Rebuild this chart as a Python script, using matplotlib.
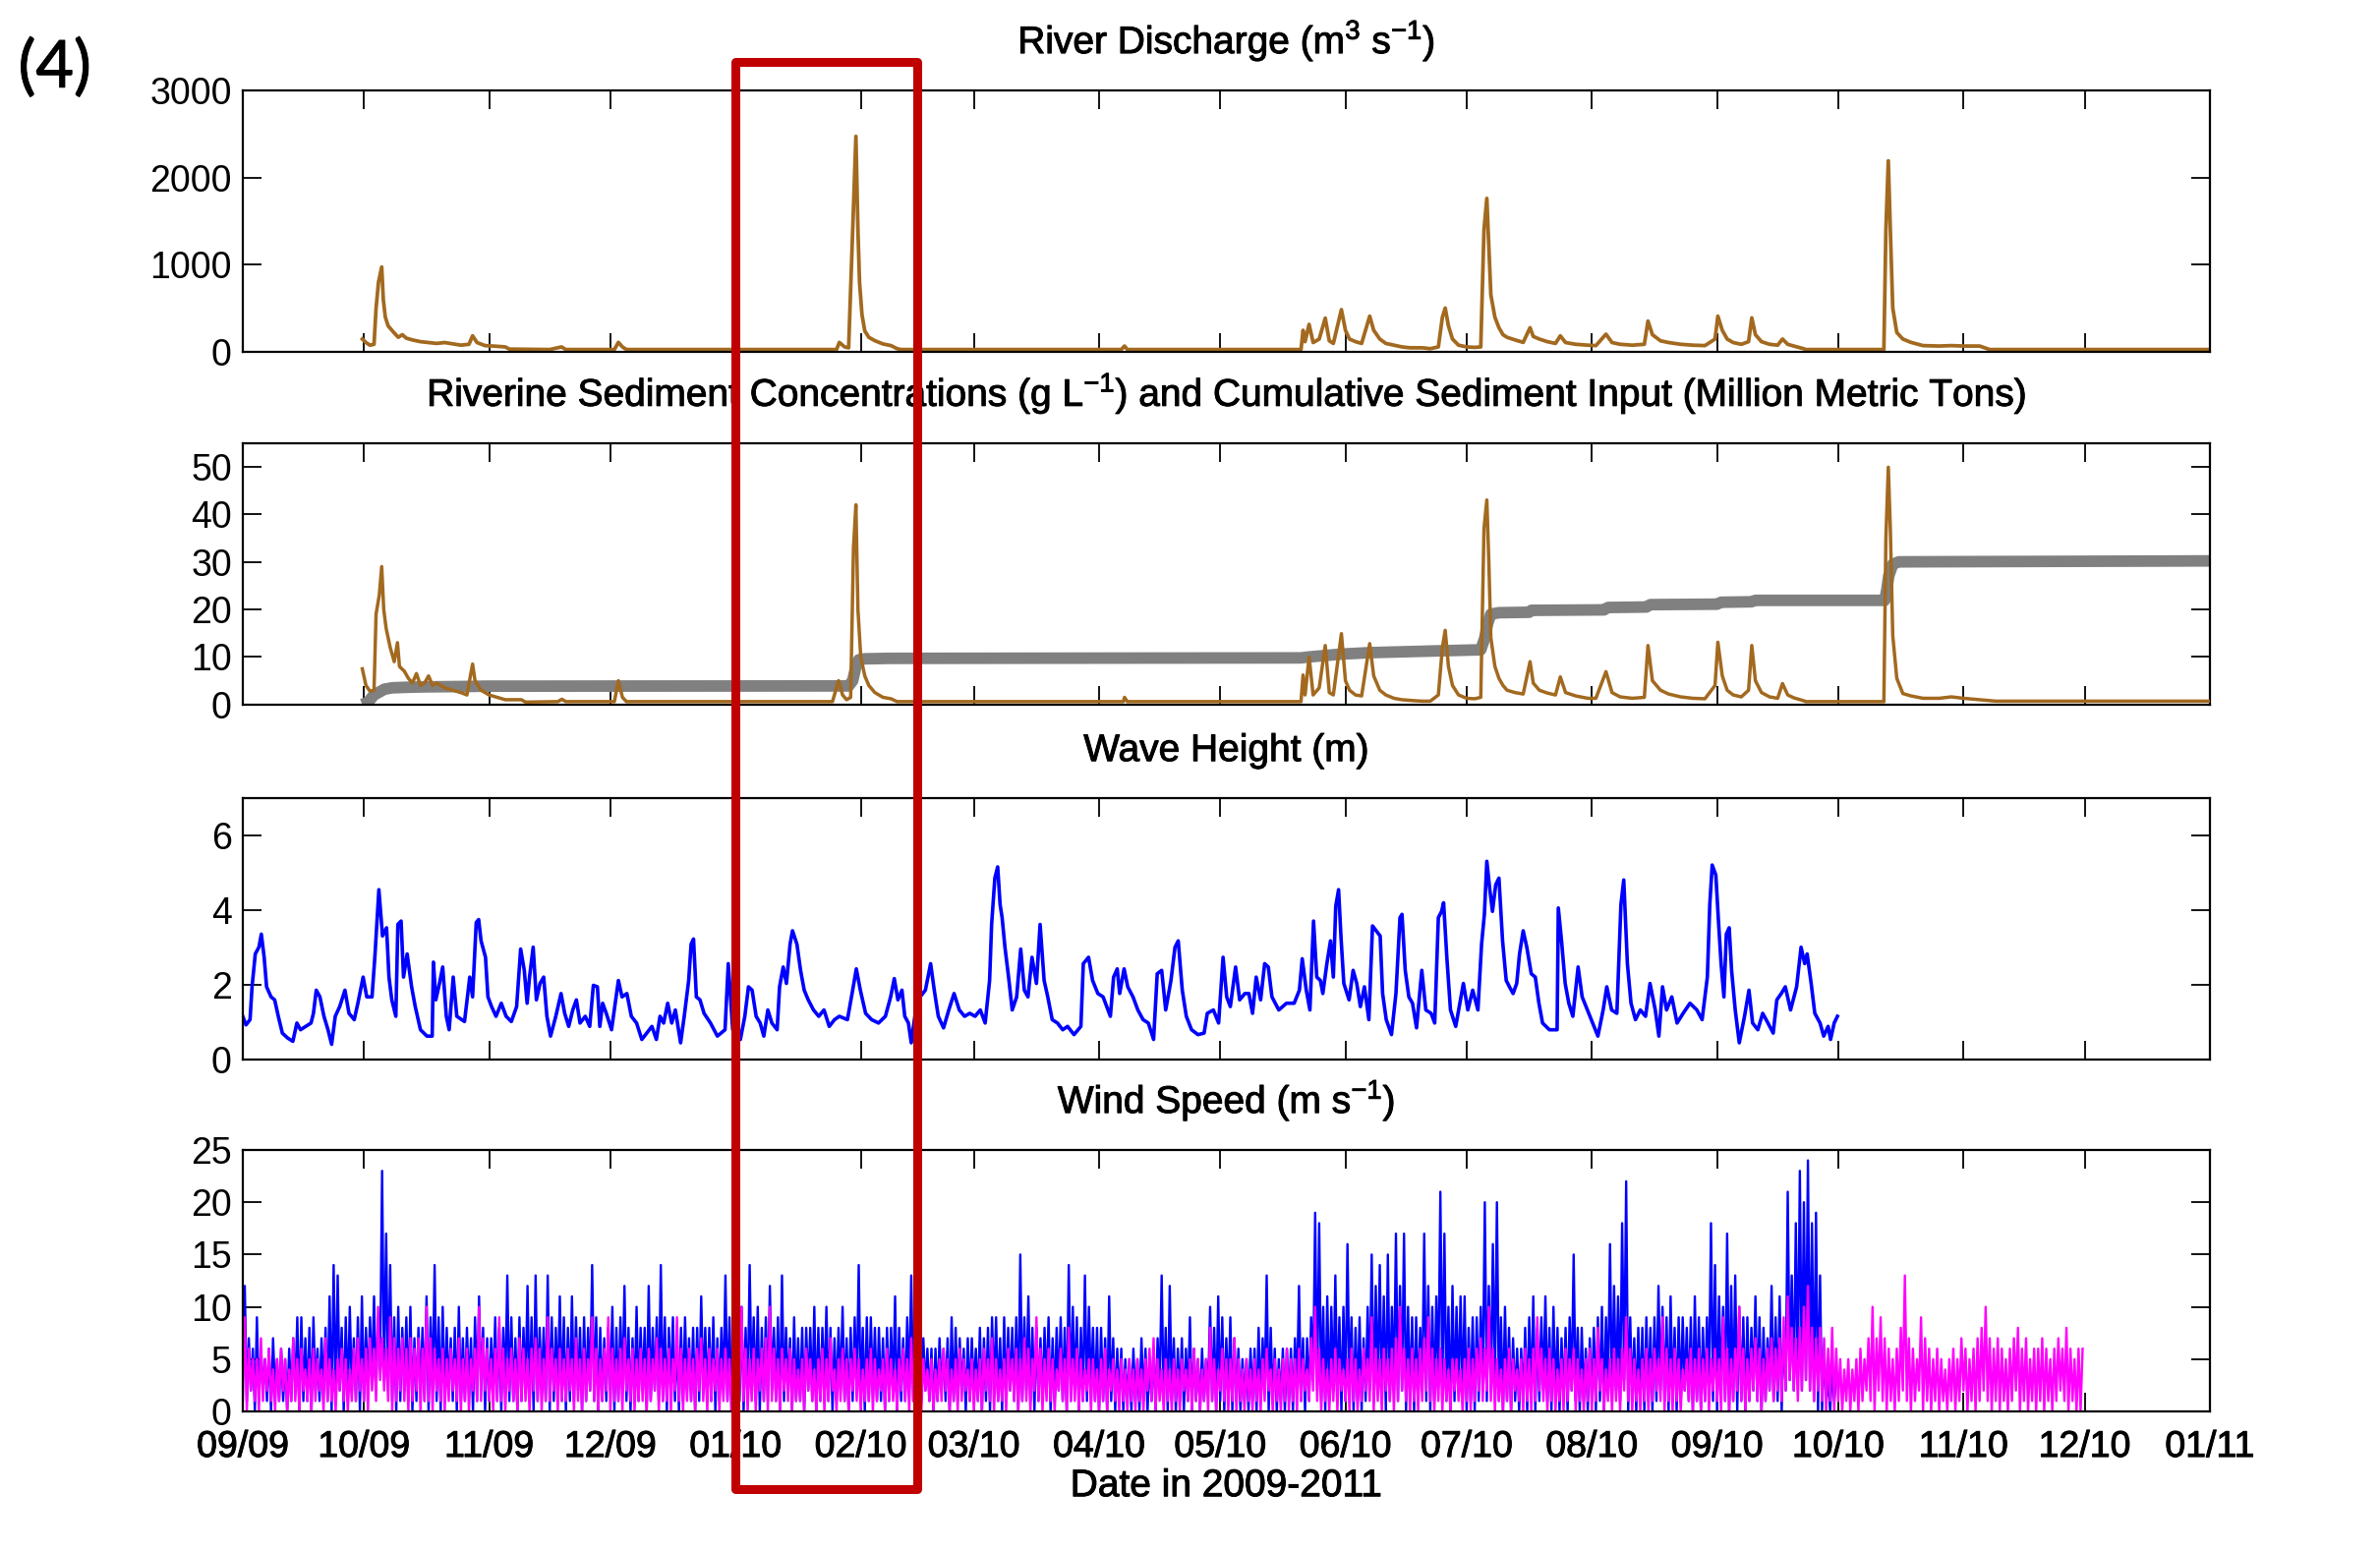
import numpy as np
import pandas as pd
import matplotlib
matplotlib.use("Agg")
import matplotlib.pyplot as plt
import matplotlib.patheffects as pe
from matplotlib.patches import Rectangle

plt.rcParams['font.family'] = ['Liberation Sans', 'DejaVu Sans']
plt.rcParams['mathtext.fontset'] = 'custom'
plt.rcParams['mathtext.rm'] = 'Liberation Sans'
plt.rcParams['mathtext.it'] = 'Liberation Sans:italic'

# time is given in days since 2009-09-01
START = np.datetime64('2009-09-01T00:00')

# river discharge (m3/s)
q_day = [29.6, 30.5, 31.5, 32.5, 33.0, 33.6, 34.4, 34.8, 35.3, 36, 37.5, 38.5, 39.5, 40.5, 42, 44, 46, 48,
         50, 52, 54, 56, 56.9, 58, 60, 62, 65, 66, 76, 78.9, 80, 92, 93, 94, 95,
         147, 147.7, 149, 150, 151, 151.8, 152.3, 152.7, 153.3, 154, 155, 156.5, 158.5, 160.5, 162, 163,
         217.5, 218.3, 219, 262, 262.5, 263, 264, 265, 266.5, 268, 269, 270, 272, 273, 274, 275.5, 277,
         279, 280, 281.5, 283, 285, 287, 289, 292, 294, 296, 297, 297.7, 298.5, 299.5, 301, 303, 305,
         306.5, 307.3, 308, 308.5, 309, 310, 311, 312, 313, 315, 317, 318.7, 319.5, 321, 323, 325, 326.2,
         327.5, 330, 333, 335, 337.5, 339, 341, 344, 347, 347.9, 349, 351, 353, 356, 359, 362, 364.5,
         365.2, 366.3, 367.5, 369, 371, 372.8, 373.6, 374.5, 376, 378, 380, 381.2, 382.5, 384, 386.4, 387,
         406.3, 406.8, 407.4, 407.9, 408.5, 409.5, 411, 413, 416, 420, 423, 426, 430, 432.5, 487]
q_val = [150, 110, 80, 90, 500, 800, 975, 600, 400, 300, 220, 170, 200, 160, 140, 120, 110, 100,
         110, 95, 80, 90, 187, 110, 75, 70, 60, 35, 30, 60, 30, 30, 112, 60, 30,
         30, 112, 60, 50, 1400, 2470, 1400, 800, 430, 243, 170, 131, 94, 75, 40, 30,
         30, 70, 30, 30, 250, 120, 318, 110, 150, 390, 130, 100, 487, 250, 150, 120, 100,
         412, 250, 150, 100, 80, 60, 50, 50, 40, 60, 400, 505, 300, 150, 80, 60, 55,
         60, 1400, 1760, 1200, 655, 400, 280, 200, 170, 140, 112, 280, 180, 150, 120, 100, 187,
         110, 90, 80, 75, 206, 110, 90, 80, 90, 356, 200, 130, 110, 90, 80, 75, 150,
         412, 250, 150, 110, 90, 120, 393, 200, 120, 90, 80, 150, 90, 70, 40, 30,
         30, 1400, 2190, 1400, 505, 225, 150, 112, 75, 70, 75, 70, 70, 30, 30]

# riverine sediment concentration (g/L)
c_day = [29.6, 30.5, 31.5, 32.5, 33.0, 33.8, 34.4, 34.9, 35.5, 36.5, 37.5, 38.3, 38.8, 40, 41, 42, 43,
         44, 45, 46, 47, 48, 50, 52, 54, 55.5, 56.9, 57.5, 59, 61, 63, 65, 69, 70, 78, 79, 80,
         92, 93, 94, 95, 146, 147.5, 148.5, 149.5, 150.5, 151.2, 151.8, 152.3, 153, 154, 155, 156.5,
         158.5, 160.5, 162, 218, 218.3, 219, 262, 262.5, 263, 264, 265, 266.5, 268, 269, 270, 272, 273,
         274, 275.5, 277, 279, 280, 281.5, 283, 285, 287, 290, 292, 294, 296, 297, 297.7, 298.5, 299.5,
         301, 303, 305, 306.5, 307.3, 308, 308.5, 309, 310, 311, 312, 313, 315, 317, 318.7, 319.5, 321,
         323, 325, 326.2, 327.5, 330, 333, 335, 337.5, 339, 341, 344, 347, 347.9, 349, 351, 353, 356,
         359, 362, 364.5, 365.2, 366.3, 367.5, 369, 371, 372.8, 373.6, 374.5, 376, 378, 380, 381.2,
         382.5, 384, 386.4, 387, 406.3, 406.8, 407.4, 407.9, 408.5, 409.5, 411, 413, 416, 420, 423,
         426, 430, 434, 487]
c_val = [7.5, 4, 2.8, 3, 19, 23, 29, 20, 16, 12, 9, 13, 8, 7, 5.5, 4.5, 6.5,
         4, 4.5, 6, 4, 4.5, 3.5, 3, 2.5, 2, 8.5, 5, 3, 2, 1.5, 1, 1, 0.5, 0.6, 1.1, 0.6,
         0.6, 5.0, 1.5, 0.6, 0.6, 5.0, 2, 1.0, 1.5, 33, 42, 20, 10, 6, 4, 2.5,
         1.5, 1.2, 0.6, 0.6, 1.5, 0.6, 0.6, 6.2, 2, 10, 2, 3.5, 12.4, 2.5, 2, 14.9, 5,
         3, 2, 1.8, 12.8, 6, 3, 2, 1.3, 1, 0.8, 0.7, 0.7, 2, 12, 15.6, 8, 4,
         2, 1.3, 1.2, 1.5, 37, 43, 30, 14, 8, 5.5, 4, 3, 2.5, 2.2, 9, 4.5, 3,
         2.4, 2, 5.8, 2.5, 1.8, 1.3, 1.3, 6.9, 2.5, 1.6, 1.3, 1.5, 12.4, 5, 3, 2.2, 1.6,
         1.3, 1.2, 4, 13.1, 6, 3, 2, 1.6, 3, 12.4, 5, 2.5, 1.6, 1.3, 4.4,
         2, 1.4, 0.8, 0.6, 0.6, 35, 49.9, 37, 14.5, 5.5, 2.3, 1.8, 1.3, 1.3, 1.6,
         1.3, 1.0, 0.7, 0.7]

# cumulative sediment input (million metric tons)
m_day = [29.6, 31, 32.5, 34, 35, 37, 40, 45, 57, 60, 150, 151, 151.8, 152.5, 154, 160, 262, 264,
         268, 272, 279, 297, 306.5, 307.5, 308.2, 309, 311, 318.5, 319, 337, 338, 347.5, 348.5,
         365, 366, 373.5, 374.5, 406.5, 407, 407.5, 408.5, 410, 487]
m_val = [0, 0.5, 2.0, 2.7, 3.2, 3.5, 3.6, 3.7, 3.8, 3.85, 3.9, 5, 8, 9.4, 9.6, 9.7, 9.8, 10,
         10.3, 10.6, 10.9, 11.3, 11.5, 14, 17, 19.0, 19.3, 19.4, 19.8, 19.9, 20.4, 20.5, 21.0,
         21.1, 21.5, 21.6, 21.9, 21.9, 24, 27, 29.5, 30.0, 30.2]

# significant wave height (m)
h_day = [0, 0.8, 1.8, 2.3, 3.1, 4.0, 4.6, 5.3, 5.9, 7.0, 7.9, 8.8, 9.8, 11.1, 12.4, 13.4, 14.3, 15.6,
         16.9, 17.5, 18.2, 19.1, 20.1, 21.1, 22.0, 22.9, 24.0, 25.3, 26.3, 27.6, 28.5, 29.8, 30.7,
         32.0, 32.7, 33.7, 34.6, 35.6, 36.2, 36.9, 37.9, 38.4, 39.2, 39.8, 40.7, 41.8, 42.7, 44.0,
         45.6, 46.9, 47.2, 47.8, 48.7, 49.5, 50.4, 51.1, 52.1, 53.0, 54.9, 56.2, 56.9, 57.8, 58.4,
         59.0, 60.1, 60.7, 61.6, 62.7, 64.0, 65.2, 66.5, 67.8, 68.8, 69.7, 70.4, 71.0, 71.9, 72.7,
         73.6, 74.5, 75.3, 76.2, 77.5, 78.8, 79.7, 80.7, 81.7, 82.6, 83.5, 84.8, 85.9, 86.8, 87.8,
         88.4, 89.1, 90.0, 91.3, 93.0, 93.9, 95.1, 96.2, 97.5, 98.8, 100.0, 101.3, 102.4, 103.3,
         104.2, 105.2, 106.2, 107.1, 108.4, 109.3, 110.4, 111.0, 111.6, 112.3, 113.2, 114.2, 115.8,
         117.5, 119.4, 120.2, 121.3, 123.2, 124.3, 125.2, 126.1, 127.1, 128.1, 129.0, 130.0, 131.0,
         132.3, 132.9, 133.8, 134.6, 135.5, 136.1, 137.2, 138.1, 139.0, 140.0, 141.3, 142.6, 143.9,
         145.2, 146.5, 147.7, 149.7, 151.0, 151.9, 152.9, 154.2, 155.7, 157.4, 159.1, 160.4, 161.3,
         162.2, 163.2, 163.9, 164.8, 165.5, 166.4, 167.1, 169.0, 170.3, 171.2, 172.2, 173.5, 174.8,
         176.1, 177.4, 178.7, 180.0, 181.3, 182.6, 183.8, 184.9, 185.4, 186.2, 186.9, 187.5, 188.0,
         188.7, 189.6, 190.5, 191.6, 192.6, 193.5, 194.4, 195.4, 196.5, 197.4, 198.4, 199.3, 200.4,
         201.7, 203.0, 204.2, 205.8, 207.5, 208.1, 209.4, 210.4, 211.7, 213.0, 213.9, 214.8, 215.6,
         216.5, 217.1, 218.2, 219.1, 220.4, 221.6, 222.9, 224.2, 225.5, 226.4, 227.5, 228.5, 229.8,
         230.8, 231.6, 232.6, 233.6, 234.9, 236.5, 238.0, 238.8, 240.3, 241.6, 242.7, 243.6, 244.5,
         245.8, 246.8, 248.1, 249.1, 250.0, 250.9, 252.0, 253.0, 253.9, 254.8, 256.5, 258.4, 260.3,
         261.6, 262.3, 263.3, 264.2, 265.1, 265.9, 266.8, 267.4, 268.4, 269.3, 270.0, 270.6, 271.3,
         271.9, 272.6, 273.9, 274.9, 275.8, 276.7, 277.7, 278.8, 279.7, 280.6, 281.6, 282.2, 283.1,
         284.4, 285.5, 286.5, 287.0, 287.8, 288.7, 289.6, 290.6, 291.9, 292.9, 294.2, 295.1, 296.0,
         296.8, 297.3, 298.1, 299.0, 300.3, 301.6, 302.2, 303.3, 304.5, 305.8, 306.7, 307.4, 308.0,
         308.7, 309.4, 310.2, 311.0, 311.9, 312.8, 313.6, 314.5, 315.4, 316.1, 317.0, 317.9, 319.0,
         320.0, 320.9, 321.8, 323.5, 325.4, 325.7, 326.5, 327.4, 328.3, 329.3, 330.6, 331.6, 332.9,
         334.2, 335.5, 336.8, 337.7, 338.9, 340.2, 341.2, 341.9, 342.8, 343.7, 344.8, 346.0, 347.3,
         348.4, 349.7, 350.6, 351.5, 352.5, 353.8, 355.1, 356.6, 358.3, 360.0, 361.3, 362.6, 363.2,
         363.8, 364.7, 365.4, 366.0, 366.7, 367.3, 368.0, 368.6, 369.5, 370.5, 371.8, 372.9, 373.8,
         375.1, 376.3, 377.6, 378.9, 379.8, 380.9, 381.9, 383.2, 384.7, 385.8, 386.7, 387.3, 388.3,
         389.2, 390.5, 391.4, 392.5, 393.1, 394.0, 394.8]
h_val = [1.15, 0.92, 1.06, 1.94, 2.82, 3.0, 3.35, 2.73, 1.94, 1.67, 1.59, 1.15, 0.7, 0.57, 0.48, 0.97,
         0.79, 0.88, 0.97, 1.23, 1.85, 1.67, 1.15, 0.79, 0.40, 1.15, 1.41, 1.85, 1.23, 1.06, 1.50,
         2.20, 1.67, 1.67, 2.73, 4.54, 3.30, 3.52, 2.2, 1.59, 1.15, 3.61, 3.70, 2.2, 2.82, 1.94, 1.41,
         0.79, 0.62, 0.62, 2.6, 1.59, 2.03, 2.47, 1.15, 0.79, 2.2, 1.15, 1.01, 2.2, 1.67, 3.66, 3.74,
         3.17, 2.73, 1.67, 1.41, 1.15, 1.50, 1.15, 1.01, 1.41, 2.95, 2.38, 1.50, 2.2, 3.0, 1.59,
         2.03, 2.2, 1.15, 0.62, 1.15, 1.76, 1.23, 0.88, 1.32, 1.59, 0.97, 1.15, 0.88, 1.98, 1.94,
         0.88, 1.50, 1.23, 0.79, 2.11, 1.67, 1.76, 1.15, 0.97, 0.53, 0.70, 0.88, 0.53, 1.15,
         0.97, 1.50, 0.97, 1.32, 0.44, 1.15, 2.11, 3.08, 3.22, 1.67, 1.59, 1.23, 0.97,
         0.62, 0.79, 2.56, 0.79, 0.53, 1.15, 1.94, 1.85, 1.15, 0.97, 0.62, 1.32, 0.97,
         0.79, 1.94, 2.47, 2.03, 3.08, 3.44, 3.08, 2.38, 1.85, 1.59, 1.32, 1.15, 1.32,
         0.88, 1.06, 1.15, 1.06, 1.85, 2.42, 1.85, 1.23, 1.06, 0.97, 1.15, 1.67, 2.16,
         1.59, 1.85, 1.15, 0.97, 0.44, 1.15, 1.59, 1.85, 2.56, 1.85, 1.15, 0.84, 1.32,
         1.76, 1.32, 1.15, 1.23, 1.15, 1.32, 0.97, 2.11, 3.61, 4.85, 5.15, 4.14, 3.79,
         3.0, 2.2, 1.32, 1.67, 2.95, 1.85, 1.67, 2.73, 2.03, 3.61, 2.11, 1.67, 1.06,
         0.97, 0.79, 0.88, 0.66, 0.88, 2.56, 2.73, 2.11, 1.76, 1.67, 1.41, 1.15, 2.20,
         2.42, 1.76, 2.42, 1.94, 1.67, 1.32, 1.06, 0.97, 0.53, 2.29, 2.38, 1.32, 2.11,
         3.0, 3.17, 1.85, 1.15, 0.79, 0.66, 0.70, 1.23, 1.32, 0.97, 2.73, 1.67, 1.41,
         2.47, 1.59, 1.76, 1.76, 1.23, 2.20, 1.59, 2.56, 2.47, 1.67, 1.32, 1.50, 1.50,
         1.85, 2.69, 1.85, 1.32, 3.70, 2.20, 2.11, 1.76, 2.56, 3.17, 2.20, 4.10, 4.54,
         3.26, 2.03, 1.59, 2.38, 2.03, 1.41, 1.94, 1.06, 3.57, 3.44, 3.30, 1.76, 1.06,
         0.66, 1.76, 3.79, 3.88, 2.38, 1.67, 1.50, 0.84, 2.38, 1.32, 1.23, 0.97, 3.79,
         3.96, 4.19, 2.73, 1.32, 0.88, 1.67, 2.03, 1.32, 1.85, 1.32, 3.08, 3.88, 5.30,
         4.58, 3.96, 4.67, 4.85, 3.17, 2.11, 1.94, 1.76, 2.03, 2.82, 3.44, 3.0, 2.29,
         2.20, 1.50, 0.97, 0.79, 0.79, 4.05, 3.17, 2.03, 1.50, 1.15, 2.47, 1.67, 1.32,
         0.97, 0.62, 1.32, 1.94, 1.32, 1.23, 4.14, 4.80, 2.56, 1.50, 1.06, 1.32, 1.15,
         2.03, 1.32, 0.62, 1.94, 1.32, 1.67, 0.97, 1.23, 1.50, 1.32, 1.06, 2.20, 4.14,
         5.20, 4.93, 3.61, 2.56, 1.67, 3.35, 3.52, 2.38, 1.32, 0.44, 1.15, 1.85, 0.97,
         0.79, 1.23, 0.97, 0.70, 1.59, 1.76, 1.94, 1.32, 1.94, 3.0, 2.56, 2.82, 2.03,
         1.23, 0.97, 0.62, 0.88, 0.53, 0.97, 1.15]

# wind speed (m/s): daily upper and lower envelope, station 1 (blue) and station 2 (magenta)
w1_hi = [12, 7, 6, 9, 6, 5, 6, 7, 5, 6,   5, 6, 7, 9, 9, 7, 8, 9, 6, 7,
         8, 11, 14, 13, 8, 9, 10, 7, 9, 11,   8, 9, 11, 9, 23, 17, 14, 9, 10, 8,
         9, 10, 7, 8, 8, 11, 9, 14, 9, 10,   8, 7, 8, 10, 7, 8, 7, 9, 11, 8,
         7, 7, 9, 8, 8, 13, 9, 7, 9, 8,   12, 9, 13, 8, 8, 13, 9, 8, 11, 9,
         8, 11, 9, 8, 9, 8, 14, 9, 8, 7,   8, 10, 8, 9, 12, 8, 7, 10, 8, 8,
         12, 8, 9, 14, 9, 8, 9, 7, 8, 9,   7, 8, 8, 11, 8, 8, 9, 7, 8, 13,
         9, 8, 8, 10, 8, 14, 9, 10, 8, 9,   12, 8, 9, 13, 8, 7, 9, 7, 8, 8,
         8, 10, 8, 8, 10, 8, 7, 8, 10, 7,   8, 9, 14, 8, 9, 9, 8, 8, 7, 8,
         8, 11, 8, 7, 9, 13, 8, 8, 7, 6,   6, 6, 7, 6, 7, 9, 8, 7, 6, 7,
         7, 6, 8, 7, 8, 9, 9, 7, 9, 8,   8, 9, 15, 9, 11, 8, 8, 7, 8, 9,
         7, 8, 9, 8, 14, 10, 9, 8, 13, 10,   8, 8, 8, 7, 11, 7, 6, 6, 5, 5,
         6, 5, 7, 6, 5, 6, 7, 13, 8, 12,   7, 6, 7, 6, 9, 6, 5, 6, 5, 10,
         8, 11, 9, 7, 9, 7, 6, 5, 5, 6,   6, 8, 7, 13, 8, 6, 5, 6, 6, 6,
         7, 12, 7, 7, 9, 19, 18, 10, 11, 10,   13, 9, 10, 16, 9, 8, 9, 7, 10, 15,
         12, 14, 11, 15, 10, 17, 12, 17, 10, 9,   9, 8, 17, 12, 10, 11, 21, 17, 10, 12,
         10, 11, 11, 8, 9, 9, 10, 20, 12, 16,   20, 9, 10, 8, 7, 6, 6, 8, 9, 11,
         8, 9, 11, 8, 10, 8, 7, 8, 9, 15,   8, 8, 6, 7, 8, 9, 10, 9, 16, 12,
         11, 18, 22, 9, 7, 8, 8, 9, 8, 9,   12, 10, 9, 11, 8, 9, 9, 8, 9, 11,
         9, 8, 9, 18, 14, 11, 10, 17, 12, 13,   10, 9, 9, 8, 11, 9, 8, 7, 12, 9,
         11, 8, 21, 13, 18, 23, 20, 24, 18, 19,   13, 6, 3, 4, 3]
w1_lo = [3, 1, 2, 0, 1, 2, 1, 0, 2, 1,   1, 0, 1, 2, 0, 1, 1, 0, 2, 1,
         2, 1, 0, 1, 2, 0, 1, 2, 1, 0,   1, 2, 3, 2, 4, 3, 2, 1, 0, 1,
         2, 1, 0, 1, 2, 1, 0, 2, 1, 0,   1, 2, 1, 0, 1, 1, 2, 0, 1, 2,
         0, 1, 2, 1, 0, 2, 1, 1, 0, 1,   2, 1, 0, 1, 2, 1, 0, 1, 2, 1,
         0, 1, 1, 2, 0, 1, 2, 1, 0, 1,   1, 2, 0, 1, 2, 1, 0, 1, 1, 2,
         0, 1, 2, 1, 1, 0, 2, 1, 0, 1,   2, 1, 0, 1, 2, 1, 1, 0, 1, 2,
         1, 0, 2, 1, 0, 1, 2, 1, 0, 1,   1, 2, 1, 0, 1, 2, 0, 1, 1, 0,
         2, 1, 0, 1, 2, 1, 0, 1, 2, 1,   0, 1, 2, 1, 0, 1, 2, 1, 1, 0,
         1, 2, 0, 1, 1, 2, 1, 0, 1, 2,   1, 0, 1, 2, 1, 0, 1, 1, 2, 0,
         1, 2, 1, 0, 1, 0, 2, 1, 0, 1,   2, 1, 0, 1, 2, 1, 0, 1, 1, 2,
         0, 1, 2, 1, 0, 1, 2, 0, 1, 1,   2, 1, 0, 1, 0, 1, 0, 1, 0, 1,
         0, 1, 0, 1, 0, 1, 0, 2, 1, 0,   1, 0, 1, 0, 1, 0, 1, 0, 1, 2,
         1, 0, 1, 0, 1, 0, 1, 0, 1, 0,   1, 0, 1, 2, 0, 1, 0, 1, 0, 1,
         0, 2, 1, 0, 1, 3, 2, 1, 0, 1,   2, 1, 0, 1, 2, 0, 1, 0, 1, 2,
         1, 2, 1, 0, 1, 2, 1, 2, 0, 1,   0, 1, 2, 1, 0, 1, 3, 2, 1, 0,
         1, 2, 1, 0, 1, 0, 1, 2, 1, 2,   2, 1, 0, 1, 0, 1, 0, 1, 0, 1,
         0, 1, 2, 1, 0, 1, 0, 1, 0, 2,   1, 0, 1, 0, 1, 0, 1, 0, 2, 1,
         2, 1, 3, 0, 1, 0, 1, 0, 1, 0,   1, 2, 1, 0, 1, 0, 1, 2, 1, 0,
         1, 0, 1, 2, 1, 0, 2, 1, 0, 1,   0, 1, 0, 1, 2, 1, 0, 1, 2, 1,
         1, 0, 2, 3, 2, 3, 2, 3, 2, 1,   0, 0, 1, 0, 1]
w2_hi = [9, 6, 5, 5, 7, 5, 6, 4, 5, 6,   5, 4, 7, 5, 6, 4, 5, 6, 5, 4,
         7, 5, 4, 5, 6, 5, 4, 6, 7, 5,   6, 7, 6, 10, 7, 6, 9, 7, 6, 7,
         6, 7, 6, 7, 6, 10, 7, 6, 5, 6,   5, 6, 5, 7, 5, 6, 5, 6, 10, 7,
         6, 5, 6, 9, 6, 5, 6, 5, 7, 6,   5, 6, 7, 6, 5, 9, 6, 5, 6, 5,
         6, 5, 7, 5, 6, 5, 9, 6, 5, 6,   9, 6, 5, 6, 7, 5, 6, 5, 6, 5,
         6, 5, 7, 6, 5, 6, 5, 9, 6, 5,   6, 5, 6, 7, 5, 6, 5, 6, 5, 6,
         5, 6, 7, 10, 6, 5, 6, 5, 6, 7,   10, 6, 5, 6, 5, 6, 5, 4, 5, 6,
         5, 4, 5, 6, 5, 7, 4, 5, 6, 5,   5, 6, 5, 4, 5, 6, 5, 4, 5, 6,
         5, 4, 5, 6, 5, 7, 5, 4, 5, 4,   5, 4, 5, 6, 5, 4, 5, 6, 5, 4,
         5, 4, 5, 6, 5, 7, 5, 4, 5, 6,   5, 6, 5, 7, 6, 5, 9, 6, 5, 6,
         5, 4, 6, 5, 8, 5, 6, 5, 4, 5,   5, 4, 5, 6, 4, 5, 4, 5, 4, 5,
         4, 5, 4, 5, 6, 7, 5, 4, 5, 4,   5, 4, 5, 4, 5, 6, 5, 4, 5, 8,
         5, 4, 6, 5, 5, 7, 5, 4, 5, 4,   5, 4, 5, 6, 4, 5, 4, 5, 6, 5,
         5, 6, 5, 4, 7, 10, 6, 5, 4, 5,   6, 5, 4, 5, 6, 5, 4, 6, 5, 9,
         6, 5, 6, 5, 6, 7, 10, 6, 5, 6,   5, 6, 7, 9, 6, 5, 6, 5, 4, 5,
         5, 4, 5, 6, 5, 6, 7, 6, 10, 6,   5, 4, 5, 6, 5, 4, 5, 6, 5, 6,
         9, 6, 5, 6, 5, 4, 5, 6, 5, 6,   5, 4, 5, 6, 5, 8, 5, 4, 5, 6,
         5, 6, 9, 6, 5, 4, 5, 6, 5, 6,   5, 9, 6, 5, 6, 5, 4, 5, 6, 5,
         6, 5, 6, 5, 6, 5, 9, 6, 5, 6,   10, 6, 5, 6, 7, 6, 5, 6, 7, 6,
         7, 9, 11, 8, 7, 8, 10, 12, 8, 7,   8, 7, 6, 8, 6, 5, 4, 5, 4, 5,
         6, 5, 7, 10, 7, 9, 7, 6, 5, 6,   8, 13, 7, 6, 5, 9, 7, 6, 5, 6,
         5, 4, 5, 6, 5, 7, 6, 5, 6, 7,   8, 10, 7, 6, 7, 6, 5, 6, 7, 8,
         6, 7, 5, 6, 6, 7, 6, 5, 6, 7,   6, 8, 6, 5, 6, 6]
w2_lo = [1, 0, 2, 1, 0, 1, 2, 1, 0, 1,   2, 0, 1, 1, 0, 2, 1, 0, 1, 2,
         0, 1, 1, 0, 2, 1, 0, 1, 1, 2,   1, 0, 2, 1, 3, 2, 1, 0, 1, 2,
         1, 0, 1, 2, 0, 1, 1, 0, 2, 1,   0, 1, 2, 1, 0, 1, 0, 2, 1, 1,
         2, 1, 0, 1, 1, 0, 2, 1, 0, 1,   1, 0, 2, 1, 0, 1, 1, 2, 0, 1,
         1, 2, 0, 1, 0, 1, 2, 1, 0, 1,   2, 0, 1, 1, 0, 2, 1, 0, 1, 1,
         0, 1, 2, 0, 1, 1, 0, 2, 1, 0,   1, 1, 0, 2, 1, 0, 1, 2, 0, 1,
         1, 0, 1, 2, 1, 0, 1, 0, 2, 1,   0, 1, 1, 0, 2, 1, 0, 1, 1, 0,
         2, 1, 0, 1, 0, 1, 2, 0, 1, 1,   0, 2, 1, 0, 1, 1, 0, 1, 2, 0,
         1, 1, 0, 2, 1, 0, 1, 1, 0, 2,   1, 0, 1, 1, 2, 0, 1, 0, 1, 2,
         1, 0, 1, 0, 2, 1, 0, 1, 1, 0,   2, 1, 0, 1, 1, 0, 2, 1, 0, 1,
         1, 0, 2, 1, 0, 1, 1, 0, 1, 2,   0, 1, 0, 1, 0, 2, 1, 0, 1, 0,
         1, 0, 1, 0, 2, 1, 0, 1, 0, 1,   0, 1, 0, 2, 1, 0, 1, 0, 1, 0,
         1, 0, 2, 1, 0, 1, 0, 1, 0, 1,   0, 1, 0, 1, 2, 0, 1, 0, 1, 0,
         1, 0, 1, 2, 1, 2, 1, 0, 1, 0,   1, 0, 2, 1, 0, 1, 0, 1, 2, 1,
         0, 1, 0, 2, 1, 0, 1, 2, 1, 0,   1, 0, 1, 2, 1, 0, 1, 0, 1, 0,
         2, 1, 0, 1, 0, 1, 2, 1, 2, 1,   0, 1, 0, 1, 0, 2, 1, 0, 1, 0,
         1, 2, 1, 0, 1, 0, 1, 0, 1, 2,   0, 1, 0, 1, 0, 1, 2, 0, 1, 0,
         1, 0, 2, 1, 0, 1, 0, 1, 0, 1,   2, 1, 0, 1, 0, 1, 0, 2, 1, 0,
         1, 0, 1, 0, 2, 1, 0, 1, 0, 1,   2, 1, 0, 1, 2, 1, 0, 1, 2, 1,
         2, 1, 2, 3, 2, 1, 2, 3, 2, 1,   2, 1, 0, 1, 0, 1, 0, 1, 0, 1,
         0, 1, 2, 1, 0, 2, 1, 0, 1, 0,   1, 2, 1, 0, 1, 2, 0, 1, 0, 1,
         0, 1, 0, 1, 0, 1, 2, 0, 1, 0,   1, 2, 1, 0, 1, 0, 1, 0, 1, 2,
         0, 1, 0, 1, 0, 1, 0, 1, 0, 1,   2, 1, 0, 1, 0, 0]

months = pd.date_range('2009-09-01', '2011-01-01', freq='MS')
month_labels = [m.strftime('%m/%y') for m in months]

BROWN = '#A2691F'
FS = 28
TFS = 27


def to_dates(days):
    return START + np.round(np.asarray(days, float) * 1440).astype('timedelta64[m]')


def envelope(hi, lo):
    # alternate each day's low and high reading
    d = np.arange(len(hi), dtype=float)
    x = np.column_stack([d, d + 0.5]).ravel()
    y = np.column_stack([lo, hi]).ravel()
    return to_dates(x), y


def style(ax, ylim, yticks, xlabels=False):
    ax.set_xlim(months[0], months[-1])
    ax.set_ylim(*ylim)
    ax.set_yticks(yticks)
    ax.set_xticks(months)
    if xlabels:
        ax.set_xticklabels(month_labels)
    else:
        ax.set_xticklabels([])
    ax.tick_params(direction='in', top=True, right=True, length=14, width=1.3,
                   labelsize=TFS, pad=8)
    ax.tick_params(axis='x', pad=13)
    for s in ax.spines.values():
        s.set_linewidth(1.6)


fig = plt.figure(figsize=(24.21, 15.77), dpi=100)
L, W = 0.1020, 0.8265
ax1 = fig.add_axes([L, 0.7728, W, 0.1691])
ax2 = fig.add_axes([L, 0.5455, W, 0.1687])
ax3 = fig.add_axes([L, 0.3166, W, 0.1687])
ax4 = fig.add_axes([L, 0.0894, W, 0.1687])

ax1.plot(to_dates(q_day), q_val, color=BROWN, lw=2.7)
style(ax1, (0, 3000), [0, 1000, 2000, 3000])
ax1.set_title(r'River Discharge (m$^{3}$ s$^{-1}$)', fontsize=FS, pad=27)

ax2.plot(to_dates(m_day), m_val, color='#808080', lw=8.5, solid_capstyle='butt', zorder=2)
ax2.plot(to_dates(c_day), c_val, color=BROWN, lw=2.5, zorder=3)
style(ax2, (0, 55), [0, 10, 20, 30, 40, 50])
ax2.set_title(r'Riverine Sediment Concentrations (g L$^{-1}$) and Cumulative Sediment Input '
              r'(Million Metric Tons)', fontsize=FS, pad=27)

ax3.plot(to_dates(h_day), h_val, color='#0000FF', lw=2.6)
style(ax3, (0, 7), [0, 2, 4, 6])
ax3.set_title('Wave Height (m)', fontsize=FS, pad=27)

xb, yb = envelope(w1_hi, w1_lo)
xm, ym = envelope(w2_hi, w2_lo)
ax4.plot(xb, yb, color='#0000FF', lw=1.7)
ax4.plot(xm, ym, color='#FF00FF', lw=1.7)
style(ax4, (0, 25), [0, 5, 10, 15, 20, 25], xlabels=True)
ax4.set_title(r'Wind Speed (m s$^{-1}$)', fontsize=FS, pad=27)
ax4.set_xlabel('Date in 2009-2011', fontsize=FS, labelpad=3)

fig.text(0.023, 0.956, '(4)', fontsize=48, ha='center', va='center',
         family=['Lato', 'DejaVu Sans'])

# slightly heavier text, like the original rendering
for t in fig.findobj(matplotlib.text.Text):
    if t.get_text():
        t.set_path_effects([pe.withStroke(linewidth=0.7, foreground='black')])

# red box marking Jan-mid Feb 2010
fig.canvas.draw()
x0 = ax4.transData.transform((matplotlib.dates.date2num(np.datetime64('2010-01-01')), 0))[0]
x1 = ax4.transData.transform((matplotlib.dates.date2num(np.datetime64('2010-02-15')), 0))[0]
fx0 = fig.transFigure.inverted().transform((x0, 0))[0]
fx1 = fig.transFigure.inverted().transform((x1, 0))[0]
box = Rectangle((fx0, 0.0392), fx1 - fx0, 0.9598 - 0.0392, transform=fig.transFigure,
                fill=False, edgecolor='#C00000', lw=6.5, joinstyle='round', zorder=10)
fig.add_artist(box)

fig.savefig('out.png', dpi=100)
